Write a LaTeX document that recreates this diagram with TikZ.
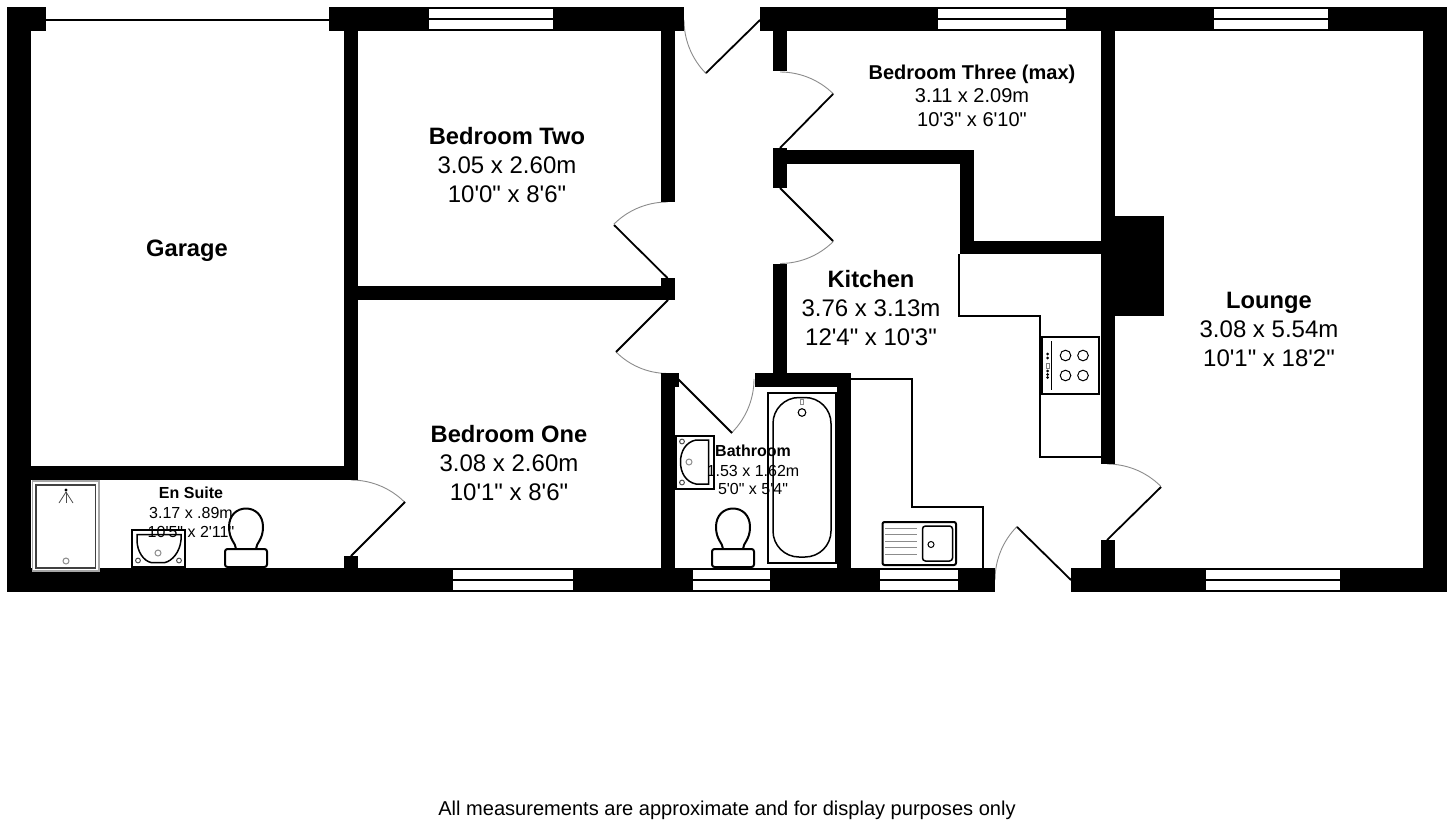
\documentclass[tikz,border=0pt]{standalone}
\usepackage{fontspec}
\setmainfont[Ligatures=TeXOff]{Liberation Sans}
\definecolor{arcgrey}{gray}{0.55}
\tikzset{
  wallfill/.style={fill=black,draw=none},
  winpane/.style={fill=white,draw=none},
  winline/.style={draw=black,line width=2pt},
  leaf/.style={draw=black,line width=1.8pt},
  swing/.style={draw=arcgrey,line width=0.9pt},
  unit/.style={draw=black,line width=1.3pt},
  fixture/.style={draw=black,line width=2pt,fill=white},
  fixthin/.style={draw=black,line width=1.5pt},
  greyc/.style={draw=black!45,line width=1pt},
  lbig/.style={font=\fontsize{24}{26}\selectfont,inner sep=0pt},
  bbig/.style={font=\fontsize{23.7}{26}\selectfont\bfseries,inner sep=0pt},
  lmid/.style={font=\fontsize{20}{22}\selectfont,inner sep=0pt},
  bmid/.style={font=\fontsize{20}{22}\selectfont\bfseries,inner sep=0pt},
  lsmall/.style={font=\fontsize{16}{18}\selectfont,inner sep=0pt},
  bsmall/.style={font=\fontsize{16}{18}\selectfont\bfseries,inner sep=0pt},
  lfoot/.style={font=\fontsize{20.05}{22}\selectfont,inner sep=0pt},
}
\newcommand{\wallbox}[4]{\fill[wallfill] (#1,#2) rectangle (#3,#4);}
\newcommand{\doorswing}[5]{\draw[swing] plot[domain=#3:#4,samples=16] ({#1+#5*cos(\x)},{#2+#5*sin(\x)});}
\newcommand{\topwin}[2]{\fill[winpane] (#1,9.5) rectangle (#2,29);\draw[winline] (#1,19.5) -- (#2,19.5);}
\newcommand{\botwin}[2]{\fill[winpane] (#1,569.5) rectangle (#2,590);\draw[winline] (#1,580) -- (#2,580);}
\newcommand{\wctoilet}[1]{%
  \begin{scope}[shift={(#1,0)}]
    \draw[fixture] (-10,549) .. controls (-10,543) and (-17,540) .. (-17,527) .. controls (-17,515) and (-9,508.5) .. (0,508.5) .. controls (9,508.5) and (17,515) .. (17,527) .. controls (17,540) and (10,543) .. (10,549);
    \draw[fixture,rounded corners=2.5pt] (-21,549) rectangle (21,567);
  \end{scope}}
\begin{document}
\begin{tikzpicture}[x=1pt,y=-1pt]
\useasboundingbox (0,0) rectangle (1448,824);
\fill[white] (0,0) rectangle (1448,824);

% door swings (under the walls)
\doorswing{667.5}{278}{225}{270}{76}
\doorswing{668}{300}{90}{135}{73.5}
\doorswing{351}{556}{-90}{-45}{76}
\doorswing{760}{20}{135}{180}{76}
\doorswing{780}{148}{-90}{-45}{76}
\doorswing{780}{188}{45}{90}{75.5}
\doorswing{678}{379}{0}{45}{76}
\doorswing{1107}{540}{-90}{-45}{76}
\doorswing{1071}{580}{180}{225}{76}

% door leaves
\draw[leaf] (667.5,278) -- (614,225);
\draw[leaf] (668,300) -- (616,352);
\draw[leaf] (351,556) -- (405,502);
\draw[leaf] (760,20) -- (706,73);
\draw[leaf] (780,148) -- (833,94);
\draw[leaf] (780,188) -- (833,241);
\draw[leaf] (678,379) -- (732,433);
\draw[leaf] (1107,540) -- (1161,487);
\draw[leaf] (1071,580) -- (1017,527);

% kitchen units
\draw[unit] (959,254) -- (959,316) -- (1040,316) -- (1040,457) -- (1101,457);
\draw[unit] (851,379) -- (912,379) -- (912,507) -- (983,507) -- (983,568);

% walls: outer
\wallbox{7}{7}{31}{592}
\wallbox{1423}{7}{1447}{592}
\wallbox{7}{7}{46}{31}
\wallbox{329}{7}{684}{31}
\wallbox{760}{7}{1447}{31}
\wallbox{7}{568}{995}{592}
\wallbox{1071}{568}{1447}{592}
% walls: inner
\wallbox{344}{31}{358}{480}
\wallbox{31}{466}{358}{480}
\wallbox{344}{556}{358}{568}
\wallbox{358}{286}{675}{300}
\wallbox{661}{278}{675}{300}
\wallbox{661}{31}{675}{202}
\wallbox{661}{373}{675}{568}
\wallbox{661}{373}{679}{387}
\wallbox{755}{373}{851}{387}
\wallbox{837}{373}{851}{568}
\wallbox{773}{264}{787}{373}
\wallbox{773}{31}{787}{71}
\wallbox{773}{148}{787}{188}
\wallbox{773}{150}{974}{164}
\wallbox{960}{150}{974}{254}
\wallbox{960}{241}{1101}{254}
\wallbox{1101}{31}{1115}{464}
\wallbox{1115}{216}{1164}{316}
\wallbox{1101}{540}{1115}{568}

% windows
\topwin{429}{553}
\topwin{938}{1066}
\topwin{1214}{1328}
\botwin{453}{573}
\botwin{693}{770}
\botwin{880}{958}
\botwin{1206}{1340}

% garage door
\fill[winpane] (46,7) rectangle (329,31);
\draw[winline] (46,19.7) -- (329,19.7);

% hob
\draw[fixture,fill=white] (1041.5,337) rectangle (1099,394);
\draw[fixthin] (1051.7,341) -- (1051.7,390);
\foreach \cx/\cy in {1065.5/355.5,1083/355.5,1065.5/375.5,1083/375.5}
  \draw[black,line width=1pt] (\cx,\cy) circle[radius=5.3];
\foreach \dy in {354,358,371,374.5,377.5}
  \fill[black] (1047.7,\dy) circle[radius=1.5];
\draw[black!50,line width=0.8pt] (1046,363) rectangle (1049.5,368);

% sink
\draw[fixture,fill=white,rounded corners=2pt] (882.5,522) rectangle (956,565);
\draw[fixthin,rounded corners=3pt] (922.5,526) rectangle (952.5,561);
\draw[black,line width=1pt] (931,544.5) circle[radius=3];
\foreach \ly in {528,534.5,541,547.5,554}
  \draw[black!45,line width=1pt] (885,\ly) -- (917,\ly);

% bath
\draw[fixture] (768,392.5) rectangle (836,563);
\draw[fixthin,rounded corners=26pt] (773,397.5) rectangle (831,557);
\draw[black!45,line width=0.8pt] (800.5,399) rectangle (803,404);
\draw[black,line width=1.1pt] (802,412.5) circle[radius=3.8];

% bathroom basin
\draw[fixture] (676,435.5) rectangle (713.5,489);
\draw[fixthin] (708.5,440) -- (696,440) .. controls (686,442) and (680.5,451) .. (680.5,462) .. controls (680.5,473) and (686,482) .. (696,484) -- (708.5,484) -- cycle;
\draw[black!70,line width=1pt] (682,441.5) circle[radius=2.4];
\draw[black!70,line width=1pt] (682,482.5) circle[radius=2.4];
\draw[greyc] (689,462) circle[radius=3];

% bathroom toilet
\wctoilet{733}

% shower
\draw[black!35,line width=1.2pt,fill=white] (32.5,481) rectangle (99,571);
\draw[black!75,line width=1.3pt] (36,485) rectangle (95.5,568);
\fill[black] (66,490) circle[radius=1.6];
\draw[black!70,line width=0.8pt] (59,503) -- (66,492) -- (73,503);
\draw[black!70,line width=0.8pt] (66,492) -- (66,503);
\draw[greyc] (66,561) circle[radius=3];

% en suite basin
\draw[fixture] (131.8,529.5) rectangle (185,566.5);
\draw[fixthin] (137,534.5) -- (181,534.5) -- (181,540) .. controls (180,552) and (172,561) .. (165,562.5) -- (151,562.5) .. controls (144,561) and (137,552) .. (137,540) -- cycle;
\draw[black!70,line width=1pt] (138,560.5) circle[radius=2.4];
\draw[black!70,line width=1pt] (179,560.5) circle[radius=2.4];
\draw[greyc] (158,553) circle[radius=3];

% en suite toilet
\wctoilet{246}

% labels
\node[bbig] (garage) at (187,251) {Garage};

\node[bbig] (bedtwo) at (507,136) {Bedroom Two};
\node[lbig] (bedtwoa) at (507,165) {3.05 x 2.60m};
\node[lbig] (bedtwob) at (507,194) {10'0" x 8'6"};

\node[bbig] (bedone) at (509,434) {Bedroom One};
\node[lbig] (bedonea) at (509,463) {3.08 x 2.60m};
\node[lbig] (bedoneb) at (509,492) {10'1" x 8'6"};

\node[bbig] (kitchen) at (871,279) {Kitchen};
\node[lbig] (kitchena) at (871,308) {3.76 x 3.13m};
\node[lbig] (kitchenb) at (871,337) {12'4" x 10'3"};

\node[bbig] (lounge) at (1269,303) {Lounge};
\node[lbig] (loungea) at (1269,329) {3.08 x 5.54m};
\node[lbig] (loungeb) at (1269,358) {10'1" x 18'2"};

\node[bmid] (bedthree) at (972,74) {Bedroom Three (max)};
\node[lmid] (bedthreea) at (972,96) {3.11 x 2.09m};
\node[lmid] (bedthreeb) at (972,120) {10'3" x 6'10"};

\node[bsmall] (ensuite) at (191,493) {En Suite};
\node[lsmall] (ensuitea) at (191,513) {3.17 x .89m};
\node[lsmall] (ensuiteb) at (191,532) {10'5" x 2'11"};

\node[bsmall] (bathroom) at (753,451) {Bathroom};
\node[lsmall] (bathrooma) at (753,471) {1.53 x 1.62m};
\node[lsmall] (bathroomb) at (753,489) {5'0" x 5'4"};

\node[lfoot] (note) at (727,810) {All measurements are approximate and for display purposes only};
\end{tikzpicture}
\end{document}
